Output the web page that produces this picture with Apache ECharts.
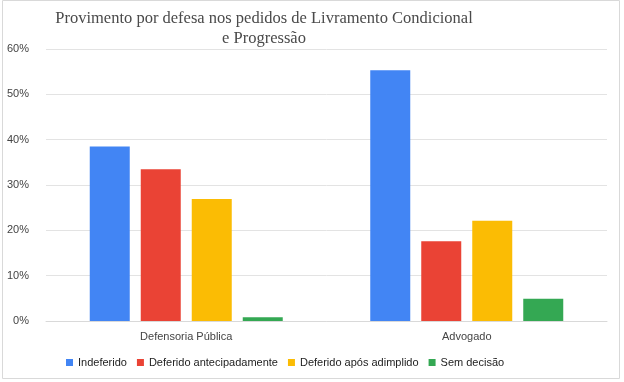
<!DOCTYPE html>
<html>
<head>
<meta charset="utf-8">
<script src="https://cdn.jsdelivr.net/npm/echarts@6/dist/echarts.min.js"></script>
<style>
  html, body { margin: 0; padding: 0; background: #fff; }
  #chart { width: 624px; height: 382px; }
</style>
</head>
<body>
<div id="chart"></div>
<script>
var categories = ['Defensoria Pública', 'Advogado'];
var seriesNames = ['Indeferido', 'Deferido antecipadamente', 'Deferido após adimplido', 'Sem decisão'];
var indeferido = [38.5, 55.3];
var deferidoAntecipadamente = [33.5, 17.6];
var deferidoAposAdimplido = [26.9, 22.1];
var semDecisao = [0.8, 4.9];
var colors = ['#4285F4', '#EA4335', '#FBBC04', '#34A853'];

var chartDom = document.getElementById('chart');
var myChart = echarts.init(chartDom);
var option;

var values = [indeferido, deferidoAntecipadamente, deferidoAposAdimplido, semDecisao];

option = {
  animation: false,
  color: colors,
  textStyle: {
    fontFamily: 'Liberation Sans',
  },
  graphic: [
    {
      type: 'rect',
      shape: { x: 2.5, y: 0.5, width: 617, height: 378 },
      style: { fill: 'none', stroke: '#d9d9d9', lineWidth: 1 },
      silent: true
    }
  ],
  title: {
    text: 'Provimento por defesa nos pedidos de Livramento Condicional\ne Progressão',
    left: 259,
    top: 4,
    textAlign: 'center',
    textStyle: {
      fontFamily: 'Liberation Serif',
      fontWeight: 'normal',
      fontSize: 16.5,
      lineHeight: 20,
      color: '#4a4a4a'
    }
  },
  legend: {
    data: seriesNames,
    left: 66,
    top: 357,
    padding: 0,
    itemWidth: 7,
    itemHeight: 7,
    itemGap: 10,
    icon: 'rect',
    textStyle: {
      color: '#222',
      fontSize: 11,
      fontFamily: 'Liberation Sans'
    }
  },
  grid: {
    left: 46,
    right: 17,
    top: 49,
    bottom: 61
  },
  xAxis: {
    type: 'category',
    data: categories,
    axisLine: { lineStyle: { color: '#d9d9d9' } },
    axisTick: { show: false },
    axisLabel: {
      color: '#444',
      fontSize: 11,
      margin: 10
    }
  },
  yAxis: {
    type: 'value',
    min: 0,
    max: 60,
    interval: 10,
    axisLine: { show: false },
    axisTick: { show: false },
    splitLine: { lineStyle: { color: '#e3e3e3' } },
    axisLabel: {
      formatter: '{value}%',
      color: '#444',
      fontSize: 11,
      margin: 17
    }
  },
  series: seriesNames.map(function (name, i) {
    return {
      name: name,
      type: 'bar',
      barWidth: 40,
      barGap: '27.5%',
      data: values[i]
    };
  })
};

option && myChart.setOption(option);
</script>
</body>
</html>
